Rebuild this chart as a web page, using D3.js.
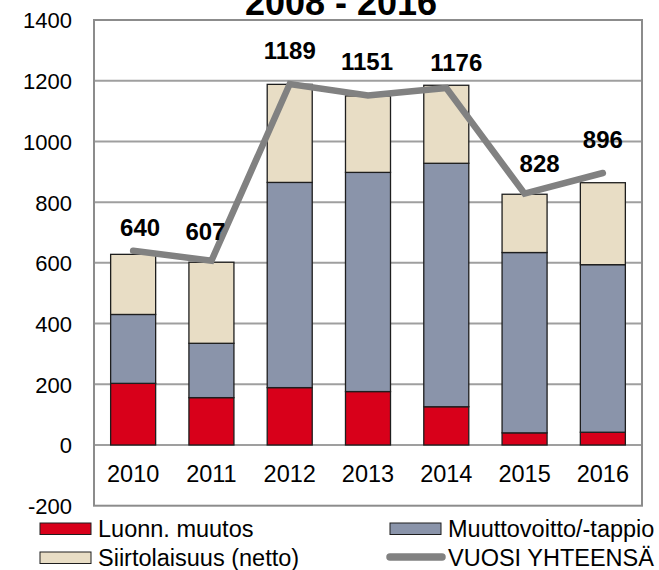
<!DOCTYPE html>
<html>
<head>
<meta charset="utf-8">
<script src="https://cdn.jsdelivr.net/npm/d3@7"></script>
<style>
  body { margin: 0; background: #fff; }
  svg { font-family: "Liberation Sans", Arial, sans-serif; }
</style>
</head>
<body>
<div id="chart"></div>
<script>
// data
const years = ["2010", "2011", "2012", "2013", "2014", "2015", "2016"];
const luonn = [203, 156, 189, 176, 126, 40, 42];          // Luonn. muutos
const muutto = [227, 179, 676, 722, 802, 594, 552];       // Muuttovoitto/-tappio
const siirto = [198, 267, 323, 252, 257, 192, 270];       // Siirtolaisuus (netto)
const total = [640, 607, 1189, 1151, 1176, 828, 896];     // VUOSI YHTEENSÄ
const yTicks = [-200, 0, 200, 400, 600, 800, 1000, 1200, 1400];

// little nudges for the value labels so they sit like the original
const labelDx = [7, -6, 0, -1, 10, 15, 0];
const labelDy = [-15, -21, -25, -26, -17, -22, -25];

const width = 659, height = 570;
const plot = {left: 94, right: 642, top: 20, bottom: 505.7};

const svg = d3.select("#chart").append("svg")
    .attr("width", width)
    .attr("height", height);

let x = d3.scaleBand()
    .domain(years)
    .range([plot.left, plot.right])
    .paddingInner(0.425)
    .paddingOuter(0.2125);

let y = d3.scaleLinear()
    .domain([-200, 1400])
    .range([plot.bottom, plot.top]);

// gridlines
svg.append("g")
    .selectAll("line")
    .data(yTicks.filter(d => d > -200 && d < 1400))
    .enter().append("line")
    .attr("x1", plot.left).attr("x2", plot.right)
    .attr("y1", d => y(d)).attr("y2", d => y(d))
    .attr("stroke", "#9f9f9f")
    .attr("stroke-width", 2);

// plot frame
svg.append("rect")
    .attr("x", plot.left).attr("y", plot.top)
    .attr("width", plot.right - plot.left)
    .attr("height", plot.bottom - plot.top)
    .attr("fill", "none")
    .attr("stroke", "#8c8c8c")
    .attr("stroke-width", 2);

// y axis labels
svg.append("g")
    .attr("transform", `translate(${plot.left - 22},0)`)
    .call(d3.axisLeft(y).tickValues(yTicks).tickSize(0).tickPadding(0)
        .tickFormat(d => String(d)))
    .call(g => g.select(".domain").remove())
    .selectAll("text")
    .attr("font-size", 22)
    .attr("font-family", "Liberation Sans, Arial, sans-serif")
    .attr("fill", "#000")
    .attr("dy", "0.36em");

// stacked bars
const series = [
    {name: "Luonn. muutos", values: luonn, color: "#d8001a"},
    {name: "Muuttovoitto/-tappio", values: muutto, color: "#8a94aa"},
    {name: "Siirtolaisuus (netto)", values: siirto, color: "#e8ddc5"}
];
const table = years.map((yr, i) => {
    let row = {year: yr};
    series.forEach(s => row[s.name] = s.values[i]);
    return row;
});
const stack = d3.stack().keys(series.map(s => s.name))(table);

svg.append("g")
    .selectAll("g")
    .data(stack)
    .enter().append("g")
    .attr("fill", (d, i) => series[i].color)
    .selectAll("rect")
    .data(d => d)
    .enter().append("rect")
    .attr("x", d => x(d.data.year))
    .attr("width", x.bandwidth())
    .attr("y", d => y(d[1]))
    .attr("height", d => y(d[0]) - y(d[1]))
    .attr("stroke", "#1e1e1e")
    .attr("stroke-width", 1.3);

// year labels
svg.append("g")
    .selectAll("text")
    .data(years)
    .enter().append("text")
    .attr("x", d => x(d) + x.bandwidth() / 2)
    .attr("y", 482)
    .attr("text-anchor", "middle")
    .attr("font-size", 23.5)
    .text(d => d);

// total line
const cx = i => x(years[i]) + x.bandwidth() / 2;
svg.append("path")
    .datum(total)
    .attr("fill", "none")
    .attr("stroke", "#818181")
    .attr("stroke-width", 6.5)
    .attr("stroke-linecap", "round")
    .attr("d", d3.line().x((d, i) => cx(i)).y(d => y(d)));

svg.append("g")
    .selectAll("text")
    .data(total)
    .enter().append("text")
    .attr("x", (d, i) => cx(i) + labelDx[i])
    .attr("y", (d, i) => y(d) + labelDy[i])
    .attr("text-anchor", "middle")
    .attr("font-size", 24)
    .attr("font-weight", "bold")
    .text(d => d);

// title (cut by the top edge, as in the original)
svg.append("text")
    .attr("x", 341)
    .attr("y", 15)
    .attr("text-anchor", "middle")
    .attr("font-size", 36)
    .attr("font-weight", "bold")
    .text("2008 - 2016");

// legend
const legend = [
    {name: "Luonn. muutos", color: "#d8001a", x: 40, y: 523, type: "box"},
    {name: "Muuttovoitto/-tappio", color: "#8a94aa", x: 390, y: 523, type: "box"},
    {name: "Siirtolaisuus (netto)", color: "#e8ddc5", x: 40, y: 552, type: "box"},
    {name: "VUOSI YHTEENSÄ", color: "#818181", x: 390, y: 552, type: "line"}
];
let lg = svg.append("g").selectAll("g")
    .data(legend)
    .enter().append("g")
    .attr("transform", d => `translate(${d.x},${d.y})`);

lg.filter(d => d.type == "box").append("rect")
    .attr("width", 51).attr("height", 11.5)
    .attr("fill", d => d.color)
    .attr("stroke", "#1e1e1e")
    .attr("stroke-width", 1);

lg.filter(d => d.type == "line").append("line")
    .attr("x1", 0).attr("x2", 52)
    .attr("y1", 5).attr("y2", 5)
    .attr("stroke", d => d.color)
    .attr("stroke-width", 7.5)
    .attr("stroke-linecap", "round");

lg.append("text")
    .attr("x", 58)
    .attr("y", 13.5)
    .attr("font-size", 23.5)
    .text(d => d.name);
</script>
</body>
</html>
